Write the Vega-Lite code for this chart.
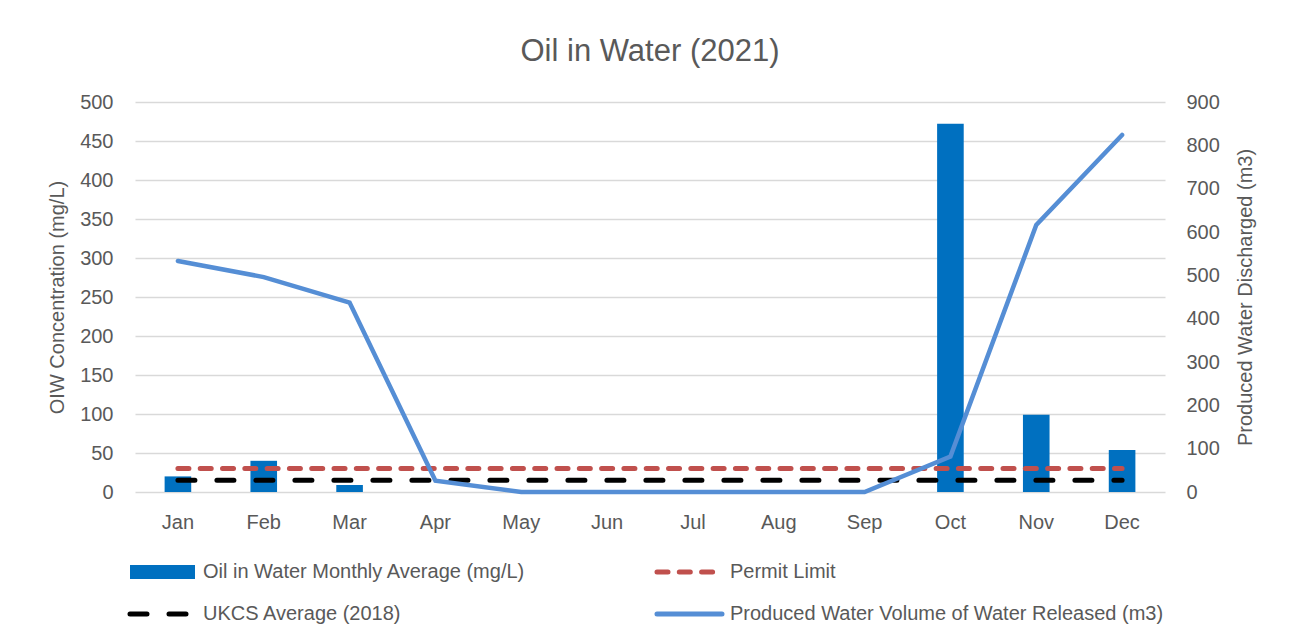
{
  "$schema": "https://vega.github.io/schema/vega-lite/v6.json",
  "autosize": "none",
  "width": 1030,
  "height": 390,
  "padding": {"left": 135, "top": 102, "right": 126, "bottom": 148},
  "background": "white",
  "config": {
    "font": "Liberation Sans",
    "view": {"stroke": null},
    "axis": {"labelColor": "#595959", "titleColor": "#595959", "labelFontSize": 20, "titleFontSize": 20, "titleFontWeight": "normal", "domain": false, "ticks": false},
    "legend": {"labelColor": "#595959", "labelFontSize": 20, "labelLimit": 1000}
  },
  "title": {"text": "Oil in Water (2021)", "fontSize": 31, "fontWeight": "normal", "color": "#595959", "offset": 24},
  "data": {
    "values": [
      {"month": "Jan", "oil": 20, "permit": 30, "ukcs": 15, "water": 533},
      {"month": "Feb", "oil": 40, "permit": 30, "ukcs": 15, "water": 496},
      {"month": "Mar", "oil": 9, "permit": 30, "ukcs": 15, "water": 437},
      {"month": "Apr", "oil": 0, "permit": 30, "ukcs": 15, "water": 26},
      {"month": "May", "oil": 0, "permit": 30, "ukcs": 15, "water": 0},
      {"month": "Jun", "oil": 0, "permit": 30, "ukcs": 15, "water": 0},
      {"month": "Jul", "oil": 0, "permit": 30, "ukcs": 15, "water": 0},
      {"month": "Aug", "oil": 0, "permit": 30, "ukcs": 15, "water": 0},
      {"month": "Sep", "oil": 0, "permit": 30, "ukcs": 15, "water": 0},
      {"month": "Oct", "oil": 472, "permit": 30, "ukcs": 15, "water": 82},
      {"month": "Nov", "oil": 99, "permit": 30, "ukcs": 15, "water": 616},
      {"month": "Dec", "oil": 54, "permit": 30, "ukcs": 15, "water": 824}
    ]
  },
  "encoding": {
    "x": {
      "field": "month", "type": "ordinal", "sort": null,
      "scale": {"paddingInner": 0, "paddingOuter": 0},
      "axis": {"title": null, "labelAngle": 0, "labelPadding": 20, "grid": false}
    }
  },
  "layer": [
    {
      "encoding": {
        "y": {
          "type": "quantitative",
          "scale": {"domain": [0, 500], "nice": false},
          "axis": {"title": "OIW Concentration (mg/L)", "values": [0,50,100,150,200,250,300,350,400,450,500], "grid": true, "gridColor": "#D9D9D9", "gridWidth": 1.3, "labelPadding": 22, "titlePadding": 12}
        }
      },
      "layer": [
        {
          "mark": {"type": "bar", "width": {"band": 0.31}},
          "encoding": {
            "y": {"field": "oil", "type": "quantitative"},
            "color": {"datum": "Oil in Water Monthly Average (mg/L)"}
          }
        },
        {
          "mark": {"type": "line", "strokeWidth": 5, "strokeDash": [11, 11.3], "strokeCap": "round"},
          "encoding": {
            "y": {"field": "permit", "type": "quantitative"},
            "color": {"datum": "Permit Limit"}
          }
        },
        {
          "mark": {"type": "line", "strokeWidth": 5, "strokeDash": [17, 22], "strokeCap": "round"},
          "encoding": {
            "y": {"field": "ukcs", "type": "quantitative"},
            "color": {"datum": "UKCS Average (2018)"}
          }
        }
      ]
    },
    {
      "mark": {"type": "line", "strokeWidth": 4.5, "strokeCap": "round"},
      "encoding": {
        "y": {
          "field": "water", "type": "quantitative",
          "scale": {"domain": [0, 900], "nice": false},
          "axis": {"orient": "right", "title": "Produced Water Discharged (m3)", "titleAngle": 270, "values": [0,100,200,300,400,500,600,700,800,900], "grid": false, "labelPadding": 21, "titlePadding": 36}
        },
        "color": {
          "datum": "Produced Water Volume of Water Released (m3)",
          "scale": {
            "domain": ["Oil in Water Monthly Average (mg/L)", "Permit Limit", "UKCS Average (2018)", "Produced Water Volume of Water Released (m3)"],
            "range": ["#0070C0", "#C0504D", "#000000", "#558ED5"]
          },
          "legend": {
            "title": null,
            "orient": "none",
            "direction": "horizontal",
            "legendX": -5,
            "legendY": 460,
            "columns": 2,
            "columnPadding": 121,
            "rowPadding": 22,
            "symbolSize": 400,
            "labelOffset": 53,
            "encode": {
              "symbols": {
                "update": {
                  "shape": {"signal": "datum.value === 'Oil in Water Monthly Average (mg/L)' ? 'M-1,-0.7H5.5V0.7H-1Z' : 'M-1,0H5.5'"},
                  "fill": {"signal": "datum.value === 'Oil in Water Monthly Average (mg/L)' ? '#0070C0' : 'transparent'"},
                  "stroke": {"signal": "datum.value === 'Oil in Water Monthly Average (mg/L)' ? 'transparent' : datum.value === 'Permit Limit' ? '#C0504D' : datum.value === 'UKCS Average (2018)' ? '#000000' : '#558ED5'"},
                  "strokeWidth": {"signal": "datum.value === 'Oil in Water Monthly Average (mg/L)' ? 0 : 5"},
                  "strokeDash": {"signal": "datum.value === 'Permit Limit' ? [11, 11.3] : datum.value === 'UKCS Average (2018)' ? [17, 22] : [1, 0]"},
                  "strokeCap": {"value": "round"},
                  "opacity": {"value": 1}
                }
              }
            }
          }
        }
      }
    }
  ],
  "resolve": {"scale": {"y": "independent"}}
}
